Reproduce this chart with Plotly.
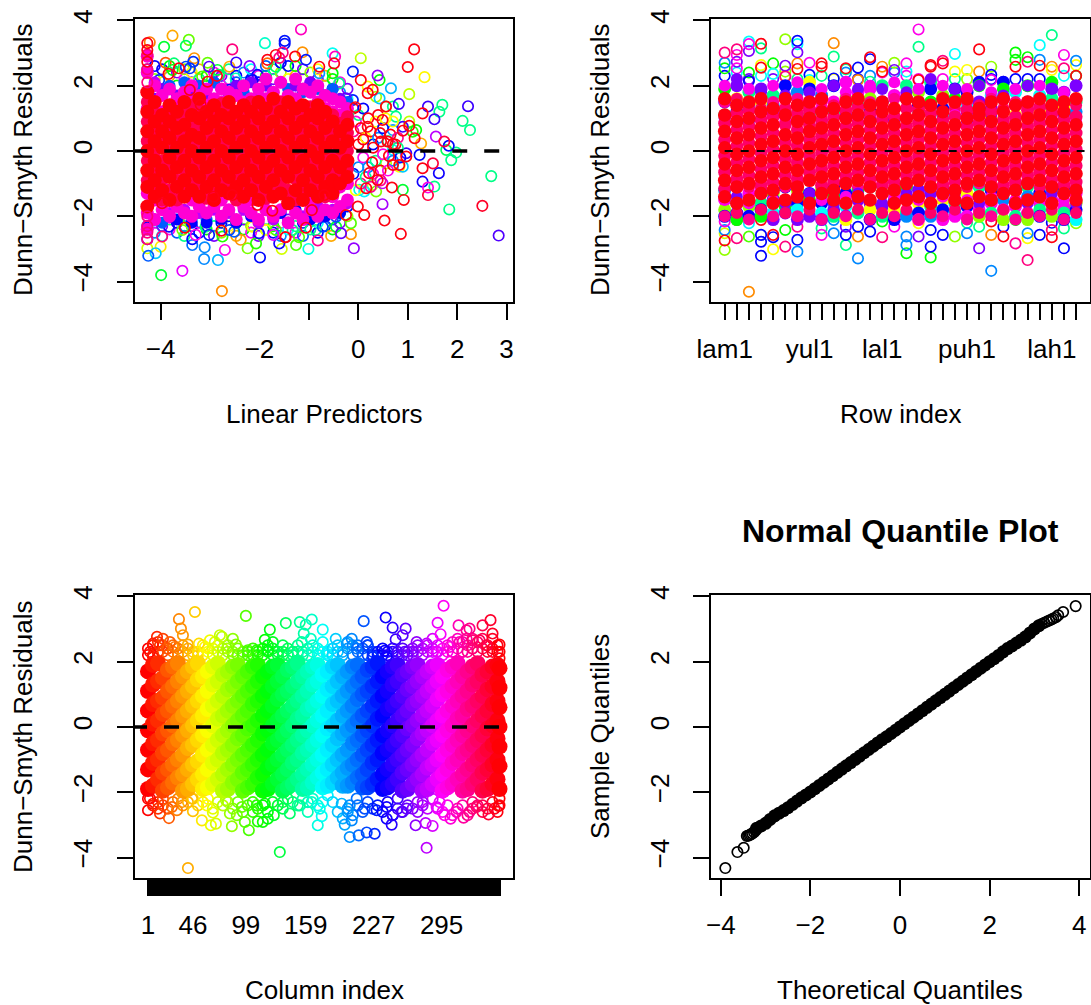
import colorsys
import plotly.graph_objects as go

N_COLS = 353
# ---------- shared axis labels
res_ticks = [-4, -2, 0, 2, 4]
lp_ticks = [-4, -3, -2, -1, 0, 1, 2, 3]
lp_labels = ["−4", "", "−2", "", "0", "1", "2", "3"]
row_ticks = list(range(1, 31))
row_labels = {1: "lam1", 8: "yul1", 14: "lal1", 21: "puh1", 28: "lah1"}
col_labels = {1: "1", 46: "46", 99: "99", 159: "159", 227: "227", 295: "295"}
qq_ticks = [-4, -2, 0, 2, 4]

# ---------- panel 1: linear predictor vs residual
lp_out = [-3.76,-4.22,-3.93,-3.43,-3.49,-1.16,-1.89,-1.49,-1.49,-2.55,-0.52,-0.47,0.05,-1.13,1.13,1.00,1.34,1.03,.66,.39,-.11,-2.47,-2.20,-3.32,-3.34,-3.73,-3.90,-3.05,-3.02,-2.85,-3.41,-2.61,-2.04,
 2.22,1.70,1.41,1.64,1.54,1.30,2.11,2.26,.82,.70,1.03,1.17,1.57,1.83,1.74,1.98,1.78,1.88,1.63,1.54,1.41,1.41,1.30,1.30,1.51,.90,.92,.68,.49,.53,.86,-.09,1.84,2.69,2.51,2.84,
 -3.99,-3.56,-2.76,-1.99,-3.12,-2.84,-2.70,-4.25,-4.10,-4.00,-4.27,-3.11,-3.36,-3.36,-3.29,-2.24,-2.07,-2.01,-1.60,-1.55,-1.26,-1.01,-.82,-.55,-.35,-.15,-.15,-.45,-2.51,-2.75,-3.02,-3.56,-2.38,-1.87,-1.72,-1.47,-1.20,-.86,
 .29,.12,.02,.36,.49,.56,.70,.83,.90,.97,1.24,1.10,1.27,.90,.70,.43,.56,.76,.43,.19,.36,-.11,-.25,-.39,-.52,
 -4.03,-3.76,-3.49,-3.16,-2.82,-2.61,-2.48,-2.14,-1.84,-1.67,-1.06,-.79,-3.83,-3.43,-3.09,-2.61,-2.14,-1.67,-1.33,-.72,-.45]
res_out = [3.53,3.33,3.19,3.40,3.22,3.72,3.30,3.37,3.28,3.11,2.99,2.89,2.84,3.02,3.11,2.57,2.26,1.74,1.92,2.31,2.43,2.71,2.60,2.84,2.73,2.68,2.70,2.70,2.58,2.48,2.53,2.58,2.33,
 1.37,1.41,1.36,1.20,.97,1.15,.92,.64,1.44,1.36,.90,.64,.44,.16,.29,-.05,.03,-.28,-.68,-1.09,-1.12,-1.35,-.94,-.53,-.38,-1.19,-1.50,-1.12,-1.63,-2.13,-2.54,-2.98,-1.79,-.77,-1.68,-2.59,
 -3.80,-3.67,-4.29,-3.26,-3.31,-3.34,-3.03,-3.21,-3.13,-2.93,-2.98,-2.95,-2.88,-2.70,-2.57,-2.98,-2.83,-2.52,-2.83,-3.00,-2.88,-3.00,-2.74,-2.60,-2.52,-2.55,-2.21,-2.32,-2.47,-2.62,-2.57,-2.42,-2.72,-2.42,-2.57,-2.64,-2.64,-2.42,
 -1.04,-1.24,-1.19,-1.24,-.99,-.38,.03,-.48,-.48,-.07,-.12,.59,.23,.74,.64,1.61,1.36,1.05,2.17,1.97,1.66,1.56,1.61,2.07,2.38,
 2.17,2.48,2.58,2.28,2.33,1.87,2.22,2.17,2.68,2.58,2.79,2.38,-2.32,-2.11,-2.32,-2.42,-2.32,-2.42,-2.42,-2.32,-2.01]
col_out = [40,30,130,95,140,310,165,232,232,325,175,310,75,35,350,350,58,75,195,270,230,250,270,35,225,145,20,95,255,130,225,40,240,
 250,150,250,150,250,350,150,150,250,150,75,120,280,235,340,150,140,150,240,150,300,340,240,350,340,130,350,350,275,350,350,270,150,150,345,255,
 130,290,33,235,205,195,300,215,190,55,70,205,210,235,300,90,110,240,240,70,100,170,320,40,260,35,100,130,215,110,230,90,35,60,290,350,100,150,
 75,180,170,90,280,75,180,60,190,250,235,110,40,250,200,190,90,150,120,60,80,230,260,150,120,
 225,120,220,100,140,235,160,235,25,140,230,200,240,100,150,220,60,100,150,220,220]

lp_bins = [-4.27,-4.12,-3.97,-3.82,-3.67,-3.52,-3.37,-3.22,-3.07,-2.92,-2.77,-2.62,-2.47,-2.32,-2.17,-2.02,-1.87,-1.72,-1.57,-1.42,-1.27,-1.12,-.97,-.82,-.67,-.52,-.37,-.22]
lp_fringe = [
 [-2.7,-2.4,2.5,2.9],[-2.5,-2.2,2.2,2.6],[-2.6,-2.3,2.1,2.5],[-2.4,-2.1,2.3,2.6],[-2.5,-2.2,2.0,2.4],[-2.6,-2.3,2.2,2.5],[-2.3,-2.1,2.1,2.4],
 [-2.5,-2.2,2.2,2.5],[-2.4,-2.1,2.0,2.3],[-2.6,-2.3,2.1,2.4],[-2.5,-2.2,2.0,2.3],[-2.3,-2.0,2.2,2.5],[-2.6,-2.2,2.1,2.3],[-2.4,-2.1,2.0,2.4],
 [-2.5,-2.3,2.2,2.5],[-2.6,-2.2,2.1,2.3],[-2.4,-2.1,2.3,2.6],[-2.5,-2.3,2.2,2.5],[-2.6,-2.2,2.4,2.7],[-2.4,-2.1,2.2,2.6],[-2.5,-2.3,2.3,2.6],
 [-2.6,-2.2,2.2,2.5],[-2.4,-2.0,2.1,2.4],[-2.5,-2.2,2.2,2.5],[-2.3,-2.0,2.0,2.3],[-2.4,-2.1,1.9,2.2],[-2.2,-1.9,1.8,2.1],[-2.0,-1.7,1.6,1.9]]
lp_violet = [
 [-2.3,-1.7,1.8,2.4],[-2.1,1.6,2.1],[-2.2,-1.6,1.9],[-1.9,2.0],[-2.1,1.7],[-1.8,2.1],[-2.2,1.8],[-1.9,2.0],[-2.2,1.7],[-1.8,2.1],
 [-2.1,1.9],[-1.9,1.7],[-2.2,2.0],[-1.8,1.8],[-2.0,2.1],[-2.2,1.7],[-1.8,2.0],[-2.1,1.8],[-1.9,2.1],[-2.2,1.9],[-1.8,2.0],[-2.0,1.8],
 [-2.1,2.1],[-1.7,1.9],[-2.0,1.7],[-1.8,1.9],[-1.9,1.6],[-1.6,1.5]]
lp_magenta = [
 [-2.4,-1.9,-1.3,1.3,1.8,2.4,2.9],[-2.1,-1.5,1.5,2.0],[-1.8,-1.1,1.2,1.7],[-2.0,-1.4,1.4,1.9],[-1.7,-1.2,1.1,1.6],[-1.9,-1.4,1.3,1.8],[-2.0,-1.5,1.5,2.0],[-1.7,-1.2,1.2,1.7],
 [-1.9,-1.4,1.4,1.9],[-1.7,-1.1,1.1,1.6],[-2.0,-1.5,1.5,1.9],[-1.8,-1.3,1.3,1.8],[-2.1,-1.4,1.2,1.7],[-1.7,-1.2,1.5,2.0],[-1.9,-1.5,1.1,1.6],[-2.1,-1.3,1.4,1.9],
 [-1.8,-1.1,1.6,2.2],[-2.0,-1.4,1.3,1.8],[-1.8,-1.2,1.5,2.1],[-2.2,-1.5,1.2,1.7],[-1.9,-1.3,1.6,2.2],[-2.1,-1.2,1.4,1.9],[-1.8,-1.5,1.2,1.8],[-2.0,-1.3,1.5,2.0],
 [-1.8,-1.2,1.3,1.7],[-1.9,-1.4,1.2,1.6],[-1.7,-1.1,1.1,1.5],[-1.5,-1.0,.9,1.3]]
lp_core = [
 [-.9,-.3,.3,.9,1.5],[-1.15,-.6,0,.6,1.15],[-.85,-.3,.3,.9,-1.5],[-1.2,-.55,.05,.6,1.2],[-.9,-.25,.35,.95,-1.5],[-1.15,-.6,0,.55,1.15],
 [-.95,-.3,.3,.85,1.4],[-1.1,-.55,.05,.65,1.25],[-.85,-.25,.35,.95,-1.45],[-1.2,-.6,0,.6,1.2],[-.9,-.3,.3,.9,1.45],[-1.05,-.5,.1,.7,1.25],
 [-.85,-.25,.35,.95,-1.5],[-1.15,-.6,0,.6,1.2],[-.9,-.3,.3,.9,1.5],[-1.15,-.5,.1,.7,1.25],[-.85,-.25,.4,1.0,-1.45],[-1.15,-.6,0,.6,1.25],
 [-.95,-.3,.3,.9,1.5],[-1.2,-.5,.1,.7,1.25],[-.85,-.2,.4,1.0,-1.5],[-1.2,-.6,0,.6,1.15],[-.9,-.3,.3,.85,1.35],[-1.1,-.5,.1,.7,1.2],
 [-.8,-.2,.4,1.0,-1.4],[-1.1,-.6,0,.6,1.1],[-.75,-.2,.35,.85],[-.55,0,.55,1.05]]
lp_red = [
 [-1.7,-1.1,-.6,0,.6,1.2,1.8],[-1.4,-.9,-.3,.3,.9,1.5],[-1.2,-.6,.1,.6,1.1],[-1.5,-.8,-.2,.4,.9,1.4],[-1.1,-.5,.1,.7,1.2],[-1.4,-.9,-.3,.3,.8,1.5],
 [-1.2,-.6,0,.5,1.1],[-1.4,-.8,-.2,.4,1.0,1.6],[-1.1,-.5,.1,.7,1.2],[-1.5,-.9,-.3,.3,.9,1.4],[-1.2,-.6,0,.6,1.1],[-1.3,-.8,-.2,.4,1.0,1.5],
 [-1.1,-.5,.1,.7,1.2],[-1.4,-.9,-.3,.3,.9,1.4],[-1.2,-.6,0,.6,1.2],[-1.5,-.8,-.2,.4,1.0,1.5],[-1.1,-.5,.1,.7,1.3],[-1.4,-.9,-.3,.3,.9,1.6],
 [-1.3,-.6,0,.6,1.2],[-1.6,-.8,-.2,.4,1.0,1.5],[-1.2,-.5,.1,.7,1.3],[-1.5,-.9,-.3,.3,.9,1.4],[-1.2,-.6,0,.6,1.1],[-1.4,-.8,-.2,.4,1.0,1.4],
 [-1.1,-.5,.1,.7,1.2],[-1.3,-.9,-.3,.3,.9],[-1.0,-.5,.1,.6],[-.8,-.3,.3,.8]]
lp_right_x = [-.1,-.1,-.1,-.05,-.05,0,0,0,.05,.05,.1,.1,.15,.15,.2,.2,.25,.25,.3,.3,.35,.35,.4,.4,.45,.45,.5,.5,.55,.6,.65,.7,.75,.8,.85,.6,.7,.8]
lp_right_res = [1.3,.6,-.7,.9,-1.2,1.1,.2,-.5,.7,-1.0,1.3,-.2,.4,-.8,1.0,-.5,.6,-1.1,.2,-.7,.9,-.3,1.1,.4,-.6,-.9,.7,-.1,1.0,.3,.5,-.3,.2,.4,-.2,-.6,.9,.1]
lp_right_cols = [350,320,236,300,60,150,350,205]
lp_red_rings = [-4.27,-4.27,-4.27,-3.63,-3.84,-2.86,-3.05,-3.41,-3.19,-1.84,-1.67,-1.28,-.79,-.49,.05,.19,.29,-.06,.56,.49,.19,1.03,.90,1.14,.59,.46,.70,.97,.70,.83,.22,.39,.16,-.01,.12,-.25,-3.51,-2.77,-3.97,-2.93,-2.55,-2.04,-1.74,-1.48,-1.06,-.94,-.69,.10,.30,.28,.44,.62]
res_red_rings = [3.30,3.09,2.73,2.53,2.36,2.30,2.12,1.87,1.41,2.79,2.94,2.89,2.58,2.68,2.17,1.77,1.87,1.34,1.36,.95,.74,.77,.62,.39,.29,.29,.21,-.17,-.43,-.43,-.68,-.89,-1.14,-1.70,-1.96,-1.96,-2.35,-2.44,-1.60,-1.40,-1.35,-1.65,-1.83,-2.64,-2.35,-1.81,-1.35,.35,.10,-.35,.55,-.15]
lp_pink_rings = [-1.53,-1.60,-4.27,-4.27,-4.27,-4.27,-4.27,-4.27,-4.27,-3.97]
res_pink_rings = [3.01,2.85,2.95,2.5,2.1,-2.0,-2.3,-2.5,-2.7,-2.62]

# ---------- panel 2: row index vs residual
row_out = [1,1,1,1,1,1,1,1,2,2,2,2,2,2,3,3,3,3,3,3,3,3,4,4,4,4,4,4,4,4,5,5,5,5,5,6,6,6,6,6,6,7,7,7,7,7,7,7,7,8,8,8,9,9,9,9,10,10,10,10,10,11,11,11,11,11,12,12,12,12,12,13,13,13,13,14,14,14,14,15,15,15,16,16,16,16,16,17,17,17,17,17,18,18,18,18,18,19,19,19,20,20,20,21,21,22,22,22,22,23,23,23,23,23,23,24,24,24,25,25,25,25,25,26,26,26,26,26,27,27,27,27,28,28,28,28,28,29,29,29,29,30,30,30,30]
res_row = [3.01,2.70,2.53,-2.16,-2.42,-2.74,-3.03,-2.52,3.11,2.94,2.73,2.53,-2.11,-2.67,3.35,3.27,3.06,2.40,2.14,-2.21,-2.62,-4.31,3.28,3.14,2.55,2.63,-2.11,-2.57,-2.78,-3.21,2.68,2.36,-2.57,-2.64,-3.01,3.42,2.61,2.43,2.28,-2.42,-2.93,3.37,3.27,3.02,2.68,2.51,-2.32,-2.72,-3.08,2.70,2.33,2.17,2.68,2.58,-2.37,-2.57,3.30,2.89,2.22,-2.11,-2.52,2.53,2.50,-2.32,-2.57,-2.88,2.55,2.17,-2.32,-2.62,-3.29,2.87,2.81,2.12,-2.47,2.58,2.43,-2.16,-2.64,2.70,2.48,-2.32,2.68,2.43,-2.62,-2.88,-3.13,3.72,3.19,2.17,-2.21,-2.62,2.63,2.58,-2.42,-2.93,-3.26,2.76,2.68,-2.57,2.97,2.43,-2.62,2.48,-2.52,3.11,2.43,-2.32,-2.98,2.58,2.33,2.17,-2.16,-2.57,-3.67,2.12,-2.32,-2.62,3.01,2.79,2.58,-2.11,-2.83,2.87,2.73,-2.52,-2.67,-3.34,2.79,2.61,3.24,-2.57,3.55,2.58,2.48,-2.42,-2.64,2.94,2.53,-2.37,-2.98,2.76,2.63,2.30,-2.21]
col_row = [325,205,118,300,205,350,85,70,325,300,265,300,340,325,177,300,265,118,236,180,100,33,350,150,350,60,350,236,236,236,118,177,350,236,60,85,265,85,325,118,325,236,177,265,33,350,320,236,205,300,236,177,350,350,150,300,33,150,236,205,205,350,150,265,236,150,236,33,236,33,205,350,236,150,236,33,350,118,325,85,265,300,300,177,205,205,118,300,150,350,60,265,350,350,236,236,118,325,350,236,177,60,85,60,205,350,33,150,265,85,236,300,350,33,205,265,236,350,118,118,350,118,320,118,325,205,60,325,205,350,177,236,150,33,60,325,350,300,325,150,236,205,60,350,85]

row_mid = [
 [2.3,1.9,1.5,1.1,-1.2,-1.5,-1.8,-2.0],[2.4,2.0,1.6,1.2,-1.1,-1.6,-1.9,-2.1],[2.2,1.8,1.4,-1.3,-1.7,-2.0],[2.3,1.9,1.5,1.2,-1.2,-1.6,-1.8,-2.0],
 [2.2,1.7,1.4,1.1,-1.3,-1.5,-1.9,-2.1],[2.3,2.0,1.6,1.2,-1.1,-1.7,-1.9],[2.2,1.8,1.4,-1.2,-1.6,-1.8,-2.1],[2.1,1.9,1.5,1.1,-1.3,-1.5,-2.0],
 [2.3,1.7,1.3,-1.2,-1.6,-1.9,-2.1],[2.2,2.0,1.5,1.2,-1.1,-1.4,-1.8,-2.0],[2.4,2.1,1.6,-1.3,-1.7,-2.0,-2.1],[2.2,1.8,1.4,1.1,-1.2,-1.5,-1.9],
 [2.3,1.9,1.6,1.2,-1.1,-1.6,-1.8,-2.1],[2.4,2.0,1.5,-1.3,-1.7,-2.0],[2.4,1.7,1.3,1.0,-1.2,-1.5,-1.8,-2.1],[2.3,2.0,1.6,-1.1,-1.4,-1.9,-2.0],
 [2.2,1.8,1.4,1.2,-1.2,-1.6,-1.9,-2.1],[2.1,1.9,1.5,-1.3,-1.7,-2.0],[2.2,1.7,1.3,1.1,-1.1,-1.5,-1.8,-2.1],[2.2,1.9,1.6,-1.2,-1.6,-1.9,-2.0],
 [2.2,1.8,1.4,1.2,-1.3,-1.7,-2.0,-2.2],[2.1,2.0,1.5,-1.1,-1.4,-1.8,-2.0],[2.2,1.7,1.3,1.0,-1.2,-1.6,-1.9],[2.1,1.9,1.6,-1.3,-1.5,-1.8,-2.1],
 [2.2,1.8,1.4,1.1,-1.2,-1.7,-2.0],[2.2,2.0,1.5,-1.1,-1.4,-1.9,-2.1],[2.2,1.7,1.3,1.2,-1.3,-1.6,-1.8,-2.0],[2.1,1.9,1.6,-1.2,-1.5,-2.0,-2.2],
 [2.3,1.8,1.4,-1.1,-1.7,-1.9,-2.1],[2.3,2.0,1.5,1.2,-1.3,-1.6,-1.8,-2.1]]
row_pink = [
 [2.0,1.5,1.0,-.9,-1.5,-2.0],[2.2,1.6,1.1,-1.0,-1.4,-1.9],[1.9,1.4,.9,-1.1,-1.6,-2.1],[1.8,1.3,1.0,-.9,-1.3,-1.8],[2.0,1.5,1.1,-1.0,-1.5,-2.0],
 [1.7,1.2,.9,-1.1,-1.6,-1.9],[2.1,1.6,1.0,-1.0,-1.4,-2.0],[1.8,1.3,1.1,-.9,-1.3,-1.8],[1.9,1.5,.9,-1.1,-1.5,-2.1],[2.0,1.4,1.0,-1.0,-1.6,-1.9],
 [1.8,1.6,1.1,-.9,-1.4,-2.0],[1.9,1.3,.9,-1.1,-1.3,-1.8],[2.0,1.5,1.0,-1.0,-1.5,-2.1],[1.9,1.4,1.1,-.9,-1.6,-1.9],[2.1,1.6,.9,-1.1,-1.4,-2.0],
 [1.8,1.3,1.0,-1.0,-1.3,-1.8],[1.9,1.5,1.1,-.9,-1.5,-2.1],[2.2,1.4,.9,-1.1,-1.6,-1.9],[2.0,1.6,1.0,-1.0,-1.4,-2.0],[1.9,1.3,1.1,-.9,-1.3,-1.8],
 [1.9,1.5,.9,-1.1,-1.5,-2.1],[2.0,1.4,1.0,-1.0,-1.6,-1.9],[1.8,1.6,1.1,-.9,-1.4,-2.0],[1.7,1.3,.9,-1.1,-1.3,-1.8],[1.9,1.5,1.0,-1.0,-1.5,-2.1],
 [2.0,1.4,1.1,-.9,-1.6,-1.9],[2.0,1.6,.9,-1.1,-1.4,-2.0],[1.9,1.3,1.0,-1.0,-1.3,-1.8],[1.8,1.5,1.1,-.9,-1.5,-2.1],[2.0,1.4,.9,-1.1,-1.6,-1.9]]
row_core = [
 [.85,.35,-.15,-.65,-1.15],[1.15,.65,.15,-.35,-.85],[1.25,.75,.25,-.25,-.75],[.95,.45,-.05,-.55,-1.05],[1.05,.55,.05,-.45,-.95],
 [1.3,.8,.25,-.25,-.75],[1.15,.65,.15,-.35,-.85],[1.25,.8,.35,-.15,-.65],[.95,.45,-.05,-.55,-1.05],[1.05,.55,.05,-.45,-.95],
 [1.25,.75,.25,-.25,-.75],[1.35,.85,.35,-.15,-.65],[1.15,.65,.15,-.35,-.85],[.95,.45,-.05,-.55,-1.05],[1.05,.55,.05,-.45,-.95],
 [1.3,.75,.25,-.25,-.75],[1.25,.85,.35,-.15,-.65],[1.15,.65,.15,-.35,-.85],[.95,.45,-.05,-.55,-1.05],[1.05,.55,.05,-.45,-.95],
 [1.25,.75,.25,-.25,-.75],[1.2,.85,.35,-.15,-.65],[1.2,.65,.15,-.35,-.85],[.95,.45,-.05,-.55,-1.05],[1.05,.55,.05,-.45,-.95],
 [1.25,.75,.25,-.25,-.75],[1.35,.85,.35,-.15,-.65],[1.15,.65,.15,-.35,-.85],[.95,.45,-.05,-.55,-1.05],[1.05,.55,.05,-.45,-.95]]
row_red = [
 [1.6,1.1,.6,.1,-.4,-.9,-1.4],[1.4,.9,.4,-.1,-.6,-1.1,-1.6],[1.5,1.0,.5,0,-.5,-1.0,-1.5],[1.6,1.2,.7,.2,-.3,-.8,-1.3],[1.3,.8,.3,-.2,-.7,-1.2,-1.6],
 [1.6,1.1,.5,0,-.5,-1.0,-1.5],[1.4,.9,.4,-.1,-.6,-1.1,-1.4],[1.5,1.0,.6,.1,-.4,-.9,-1.6],[1.6,1.2,.7,.2,-.3,-.8,-1.3],[1.3,.8,.3,-.2,-.7,-1.2,-1.5],
 [1.5,1.0,.5,0,-.5,-1.0,-1.6],[1.6,1.1,.6,.1,-.4,-.9,-1.4],[1.4,.9,.4,-.1,-.6,-1.1,-1.5],[1.5,1.2,.7,.2,-.3,-.8,-1.3],[1.3,.8,.3,-.2,-.7,-1.2,-1.6],
 [1.6,1.0,.5,0,-.5,-1.0,-1.5],[1.5,1.1,.6,.1,-.4,-.9,-1.4],[1.4,.9,.4,-.1,-.6,-1.1,-1.6],[1.6,1.2,.7,.2,-.3,-.8,-1.3],[1.5,.8,.3,-.2,-.7,-1.2,-1.5],
 [1.6,1.0,.5,0,-.5,-1.0,-1.6],[1.3,1.1,.6,.1,-.4,-.9,-1.4],[1.5,.9,.4,-.1,-.6,-1.1,-1.5],[1.6,1.2,.7,.2,-.3,-.8,-1.3],[1.4,.8,.3,-.2,-.7,-1.2,-1.6],
 [1.5,1.0,.5,0,-.5,-1.0,-1.5],[1.6,1.1,.6,.1,-.4,-.9,-1.4],[1.4,.9,.4,-.1,-.6,-1.1,-1.6],[1.5,1.2,.7,.2,-.3,-.8,-1.3],[1.6,.8,.3,-.2,-.7,-1.2,-1.5]]
row_mid_cols = [236,118,265,150,205,300,85,236,177,265,60,236,300,150]

# ---------- panel 3: column index vs residual
band_cols = [1,6,11,16,21,26,31,36,41,46,51,56,61,66,71,76,81,86,91,96,101,106,111,116,121,126,131,136,141,146,151,156,161,166,171,176,181,186,191,196,201,206,211,216,221,226,231,236,241,246,251,256,261,266,271,276,281,286,291,296,301,306,311,316,321,326,331,336,341,346,351,353]
band_res = [
 [-1.9,-1.3,-.7,-.1,.5,1.1,1.7],[-1.8,-1.1,-.5,.1,.7,1.3,1.9],[-1.6,-1.0,-.4,.2,.8,1.4,1.95],[-1.95,-1.4,-.8,-.2,.4,.9,1.5],
 [-1.85,-1.3,-.7,-.1,.5,1.1,1.75],[-1.7,-1.15,-.5,.05,.65,1.25,1.85],[-1.55,-1.0,-.4,.2,.8,1.4,1.95],[-1.95,-1.45,-.85,-.25,.35,.95,1.55],
 [-1.9,-1.3,-.65,-.1,.5,1.1,1.7],[-1.75,-1.15,-.55,.05,.65,1.25,1.85],[-1.6,-1.05,-.4,.2,.8,1.45,1.95],[-1.9,-1.45,-.85,-.25,.35,.95,1.55],
 [-1.85,-1.3,-.7,-.1,.55,1.1,1.7],[-1.75,-1.1,-.55,.05,.65,1.3,1.85],[-1.6,-1.0,-.4,.25,.8,1.4,1.95],[-1.95,-1.45,-.8,-.25,.35,.95,1.6],
 [-1.9,-1.3,-.7,-.1,.5,1.15,1.7],[-1.7,-1.15,-.55,.05,.65,1.25,1.85],[-1.6,-1.0,-.35,.2,.8,1.4,1.9],[-1.95,-1.4,-.85,-.25,.35,.95,1.55],
 [-1.85,-1.3,-.7,-.05,.5,1.1,1.7],[-1.75,-1.15,-.55,.05,.7,1.25,1.85],[-1.55,-1.0,-.4,.2,.8,1.4,1.9],[-1.95,-1.45,-.85,-.2,.35,.95,1.55],
 [-1.9,-1.25,-.7,-.1,.5,1.1,1.7],[-1.75,-1.15,-.5,.05,.65,1.25,1.85],[-1.6,-1.0,-.4,.2,.85,1.4,1.9],[-1.95,-1.45,-.85,-.25,.35,1.0,1.55],
 [-1.85,-1.3,-.7,-.1,.5,1.1,1.75],[-1.75,-1.1,-.55,.05,.65,1.25,1.85],[-1.6,-1.0,-.4,.25,.8,1.4,1.95],[-1.9,-1.45,-.8,-.25,.35,.95,1.55],
 [-1.85,-1.3,-.7,-.1,.55,1.1,1.7],[-1.7,-1.15,-.55,.05,.65,1.3,1.85],[-1.55,-1.0,-.4,.2,.8,1.4,1.9],[-1.85,-1.4,-.85,-.25,.35,.95,1.6],
 [-1.8,-1.3,-.7,-.05,.5,1.15,1.7],[-1.7,-1.15,-.55,.05,.7,1.25,1.85],[-1.55,-1.0,-.35,.2,.8,1.4,1.9],[-1.8,-1.4,-.85,-.2,.35,.95,1.55],
 [-1.8,-1.25,-.7,-.1,.5,1.1,1.7],[-1.7,-1.15,-.5,.05,.65,1.25,1.85],[-1.55,-1.0,-.4,.2,.85,1.4,1.9],[-1.85,-1.45,-.85,-.25,.35,1.0,1.55],
 [-1.85,-1.3,-.7,-.1,.5,1.1,1.75],[-1.75,-1.1,-.55,.05,.65,1.25,1.85],[-1.6,-1.0,-.4,.25,.8,1.4,1.95],[-1.9,-1.45,-.8,-.25,.35,.95,1.55],
 [-1.85,-1.3,-.7,-.1,.55,1.1,1.7],[-1.75,-1.15,-.55,.05,.65,1.3,1.85],[-1.6,-1.0,-.4,.2,.8,1.4,1.9],[-1.95,-1.4,-.85,-.25,.35,.95,1.6],
 [-1.9,-1.3,-.7,-.05,.5,1.15,1.7],[-1.75,-1.15,-.55,.05,.7,1.25,1.85],[-1.6,-1.0,-.35,.2,.8,1.4,1.9],[-1.95,-1.45,-.85,-.2,.35,.95,1.55],
 [-1.9,-1.25,-.7,-.1,.5,1.1,1.7],[-1.75,-1.15,-.5,.05,.65,1.25,1.85],[-1.6,-1.0,-.4,.2,.85,1.4,1.9],[-1.95,-1.45,-.85,-.25,.35,1.0,1.55],
 [-1.85,-1.3,-.7,-.1,.5,1.1,1.75],[-1.75,-1.1,-.55,.05,.65,1.25,1.85],[-1.6,-1.0,-.4,.25,.8,1.4,1.95],[-1.95,-1.45,-.8,-.25,.35,.95,1.55],
 [-1.9,-1.3,-.7,-.1,.55,1.1,1.7],[-1.75,-1.15,-.55,.05,.65,1.3,1.85],[-1.6,-1.0,-.4,.2,.8,1.4,1.95],[-1.95,-1.4,-.85,-.25,.35,.95,1.6],
 [-1.9,-1.3,-.7,-.05,.5,1.15,1.7],[-1.75,-1.15,-.55,.05,.7,1.25,1.85],[-1.6,-1.0,-.35,.2,.8,1.4,1.9],[-1.9,-1.2,-.6,.0,.6,1.2,1.8]]
band_edge = [
 [-2.2,2.2,2.4],[-2.4,2.5,2.2],[-2.3,2.6,2.3],[-2.2,2.3,2.5],[-2.5,2.4,2.2],[-2.3,2.5,2.3],[-2.2,2.2,2.4],[-2.4,2.3,2.5],
 [-2.3,2.4,2.2],[-2.2,2.2,2.3],[-2.4,2.3,2.2],[-2.3,2.5,2.2],[-2.2,2.3,2.4],[-2.5,2.2,2.4],[-2.3,2.5,2.3],[-2.4,2.2,2.4],
 [-2.3,2.3,2.5],[-2.5,2.2,2.3],[-2.3,2.4,2.2],[-2.6,2.2,2.3],[-2.4,2.3,2.2],[-2.3,2.2,2.4],[-2.5,2.3,2.2],[-2.4,2.2,2.4],
 [-2.6,2.5,2.3],[-2.3,2.2,2.4],[-2.4,2.3,2.2],[-2.5,2.2,2.3],[-2.2,2.4,2.2],[-2.3,2.2,2.3],[-2.4,2.3,2.5],[-2.2,2.3,2.2],
 [-2.3,2.4,2.2],[-2.2,2.5,2.3],[-2.4,2.2,2.4],[-2.3,2.6,2.3],[-2.1,2.3,2.2],[-2.3,2.2,2.4],[-2.6,2.5,2.3],[-2.8,2.3,2.2],
 [-2.5,2.4,2.6],[-2.7,2.2,2.5],[-2.4,2.3,2.5],[-2.6,2.4,2.2],[-2.3,2.2,2.5],[-2.5,2.3,2.2],[-2.4,2.2,2.3],[-2.6,2.4,2.2],
 [-2.3,2.2,2.3],[-2.7,2.3,2.4],[-2.5,2.2,2.3],[-2.6,2.4,2.2],[-2.4,2.3,2.2],[-2.5,2.2,2.4],[-2.3,2.5,2.3],[-2.4,2.2,2.4],
 [-2.5,2.3,2.5],[-2.2,2.4,2.3],[-2.5,2.3,2.5],[-2.6,2.4,2.2],[-2.4,2.5,2.3],[-2.7,2.3,2.6],[-2.5,2.4,2.7],[-2.4,2.6,2.3],
 [-2.7,2.5,2.3],[-2.5,2.4,2.7],[-2.4,2.6,2.3],[-2.6,2.4,2.7],[-2.5,2.5,2.3],[-2.3,2.4,2.7],[-2.6,2.5,2.3],[-2.4,2.3,2.1]]
col_up = [10,6,16,23,3,13,28,20,6,32,34,36,41,48,52,63,58,73,68,75,86,89,80,99,101,110,123,118,126,136,121,146,139,153,159,165,157,164,155,176,173,189,186,180,205,200,210,220,221,226,217,239,246,259,249,256,238,240,258,270,280,266,286,290,291,294,297,303,312,320,323,313,320,306,326,344,336,346,333,353,340,346,326,316]
res_up = [2.76,2.55,2.70,2.60,2.30,2.50,2.45,2.40,2.14,3.30,3.01,2.81,2.52,3.52,2.55,2.65,2.45,2.81,2.60,2.76,2.70,2.52,2.40,3.40,2.35,2.35,2.98,2.67,2.60,2.50,2.35,2.30,3.18,3.21,3.13,3.29,2.86,2.70,2.60,2.98,2.19,2.70,2.40,2.24,2.70,2.55,2.40,2.60,2.50,2.14,3.24,3.35,3.04,3.01,2.68,2.81,2.33,2.14,2.30,2.60,2.55,2.30,2.70,2.30,3.19,2.84,3.71,2.45,3.11,2.96,3.01,2.60,2.70,2.30,2.40,3.27,3.11,2.86,2.65,2.52,2.50,2.30,2.65,2.30]
col_lo = [1,6,13,22,30,16,35,3,11,25,46,41,45,55,66,60,64,69,85,79,83,90,102,98,95,106,111,116,121,127,118,133,110,136,143,153,161,173,171,175,165,195,203,198,205,203,212,220,228,201,210,218,230,240,245,240,255,246,260,251,269,279,286,280,271,276,290,298,304,293,310,317,323,330,342,352,336,348,353,326]
res_lo = [-2.55,-2.35,-2.65,-2.79,-2.55,-2.40,-2.30,-2.19,-2.50,-2.45,-2.58,-4.32,-2.19,-2.86,-2.62,-2.40,-3.01,-2.96,-3.04,-2.24,-2.65,-2.70,-3.16,-2.91,-2.45,-2.60,-2.89,-2.91,-2.81,-2.70,-2.35,-3.83,-2.40,-2.30,-2.65,-2.40,-2.60,-2.50,-3.01,-2.73,-2.30,-2.35,-2.40,-2.99,-2.86,-3.37,-3.32,-3.23,-3.27,-2.60,-2.19,-2.50,-2.55,-2.45,-2.99,-2.81,-2.60,-2.70,-2.50,-2.19,-3.01,-2.94,-3.03,-3.70,-2.60,-2.30,-2.45,-2.70,-2.81,-2.30,-2.60,-2.78,-2.60,-2.45,-2.68,-2.42,-2.40,-2.50,-2.19,-2.30]

# ---------- panel 4: normal quantile plot
qq_dense_x = [-3.2,-3.1,-3.0,-2.9,-2.8,-2.7,-2.6,-2.5,-2.4,-2.3,-2.2,-2.1,-2.0,-1.9,-1.8,-1.7,-1.6,-1.5,-1.4,-1.3,-1.2,-1.1,-1.0,-.9,-.8,-.7,-.6,-.5,-.4,-.3,-.2,-.1,0,.1,.2,.3,.4,.5,.6,.7,.8,.9,1.0,1.1,1.2,1.3,1.4,1.5,1.6,1.7,1.8,1.9,2.0,2.1,2.2,2.3,2.4,2.5,2.6,2.7,2.8,2.9,3.0,3.1]
qq_dense_y = [-3.1,-3.03,-2.95,-2.83,-2.72,-2.64,-2.56,-2.47,-2.37,-2.27,-2.17,-2.08,-1.99,-1.89,-1.79,-1.69,-1.59,-1.49,-1.39,-1.29,-1.19,-1.09,-.99,-.89,-.79,-.69,-.59,-.49,-.39,-.3,-.2,-.1,0,.1,.2,.3,.4,.5,.6,.7,.8,.9,1.0,1.1,1.2,1.3,1.4,1.5,1.6,1.7,1.8,1.9,2.0,2.09,2.19,2.3,2.4,2.48,2.57,2.66,2.76,2.88,3.0,3.1]
qq_end_x = [-3.9,-3.63,-3.49,-3.42,-3.39,-3.36,-3.33,-3.3,-3.26,-3.22,3.16,3.22,3.28,3.33,3.38,3.42,3.48,3.53,3.64,3.92]
qq_end_y = [-4.32,-3.83,-3.70,-3.34,-3.33,-3.31,-3.29,-3.26,-3.22,-3.16,3.15,3.19,3.23,3.26,3.29,3.32,3.36,3.42,3.52,3.70]

FONT = "Liberation Sans"


def rainbow(col):
    r, g, b = colorsys.hsv_to_rgb((col - 1) / N_COLS, 1, 1)
    return f"rgb({round(r*255)},{round(g*255)},{round(b*255)})"


fig = go.Figure()


def rings(ax, x, y, colors, size=10.4):
    fig.add_trace(go.Scatter(x=x, y=y, xaxis=f"x{ax}", yaxis=f"y{ax}", mode="markers", hoverinfo="skip",
                             marker=dict(symbol="circle-open", size=size, color=colors, line=dict(width=1.7))))


def discs(ax, x, y, colors, size=12):
    fig.add_trace(go.Scatter(x=x, y=y, xaxis=f"x{ax}", yaxis=f"y{ax}", mode="markers", hoverinfo="skip",
                             marker=dict(symbol="circle", size=size, color=colors, line=dict(width=0))))


def expand(bins, nested):
    xs, ys = [], []
    for b, vals in zip(bins, nested):
        for v in vals:
            xs.append(b)
            ys.append(v)
    return xs, ys


def cycle(cols, n):
    return [rainbow(cols[i % len(cols)]) for i in range(n)]


def zero_line(ax, x0, x1, width, dash):
    fig.add_trace(go.Scatter(x=[x0, x1], y=[0, 0], xaxis=f"x{ax}", yaxis=f"y{ax}", mode="lines", hoverinfo="skip",
                             line=dict(color="black", width=width, dash=dash)))


# panel 1 layers: coloured rings, violet and magenta mass, red mass
fx, fy = expand(lp_bins, lp_fringe)
rings(1, fx, fy, cycle(row_mid_cols + [40, 120, 215], len(fx)))
order = sorted(range(len(lp_out)), key=lambda i: col_out[i])
rings(1, [lp_out[i] for i in order], [res_out[i] for i in order], [rainbow(col_out[i]) for i in order])
rings(1, lp_right_x, lp_right_res, cycle(lp_right_cols, len(lp_right_x)))
vx, vy = expand(lp_bins, lp_violet)
discs(1, vx, vy, cycle([236, 265, 280, 215], len(vx)), 12)
mx, my = expand(lp_bins, lp_magenta)
discs(1, mx, my, rainbow(305), 13)
cx, cy = expand(lp_bins, lp_core)
discs(1, cx, cy, rainbow(335), 13)
rx, ry = expand(lp_bins, lp_red)
discs(1, rx, ry, rainbow(352), 14)
rings(1, lp_pink_rings, res_pink_rings, rainbow(325))
rings(1, lp_red_rings, res_red_rings, rainbow(350))
zero_line(1, -4.575, 2.854, 3.6, "15px,17px")

# panel 2 layers
rx2, ry2 = expand(row_ticks, row_mid)
mid_colors = cycle(row_mid_cols, len(rx2))
inner = [i for i in range(len(rx2)) if abs(ry2[i]) < 2.15]
outer = [i for i in range(len(rx2)) if abs(ry2[i]) >= 2.15]
rings(2, [rx2[i] for i in outer], [ry2[i] for i in outer], [mid_colors[i] for i in outer])
order = sorted(range(len(row_out)), key=lambda i: col_row[i])
rings(2, [row_out[i] for i in order], [res_row[i] for i in order], [rainbow(col_row[i]) for i in order])
discs(2, [rx2[i] for i in inner], [ry2[i] for i in inner], [mid_colors[i] for i in inner], 13)
px2, py2 = expand(row_ticks, row_pink)
discs(2, px2, py2, cycle([300, 320, 265, 330], len(px2)), 12)
cx2, cy2 = expand(row_ticks, row_core)
discs(2, cx2, cy2, rainbow(330), 13)
qx2, qy2 = expand(row_ticks, row_red)
discs(2, qx2, qy2, rainbow(350), 13.5)
zero_line(2, 1, 30.7, 2, "8px,8px")

# panel 3 layers
ex, ey = expand(band_cols, band_edge)
rings(3, ex, ey, [rainbow(c) for c in ex])
order = sorted(range(len(col_up + col_lo)), key=lambda i: (col_up + col_lo)[i])
all_c, all_r = col_up + col_lo, res_up + res_lo
rings(3, [all_c[i] for i in order], [all_r[i] for i in order], [rainbow(all_c[i]) for i in order])
bx, by = expand(band_cols, band_res)
discs(3, bx, by, [rainbow(c) for c in bx], 16)
zero_line(3, -15, N_COLS, 3.6, "15px,17px")

# panel 4 layers
discs(4, qq_dense_x, qq_dense_y, "black", 13)
rings(4, qq_end_x, qq_end_y, "black")

W, H = 1091, 1005


def dom_x(a, b):
    return [a / W, b / W]


def dom_y(top, bottom):
    return [1 - bottom / H, 1 - top / H]


common = dict(showline=True, mirror=True, linecolor="black", linewidth=2, showgrid=False, zeroline=False,
              ticks="outside", ticklen=16, tickwidth=1.7, tickcolor="black", automargin=False,
              tickfont=dict(family=FONT, size=26, color="black"), tickmode="array")
x_common = dict(common, ticklabelstandoff=7, tickangle=0)
y_common = dict(common, tickvals=res_ticks, ticktext=["−4", "−2", "0", "2", "4"], tickangle=-90, ticklabelstandoff=14)


def lab(vals, mapping):
    return [mapping.get(v, "") for v in vals]


col_ticks = list(range(1, N_COLS + 1))
layout = dict(
    width=W, height=H, margin=dict(l=0, r=0, t=0, b=0, autoexpand=False), paper_bgcolor="white", plot_bgcolor="white", showlegend=False,
    xaxis=dict(x_common, domain=dom_x(134.7, 513), range=[-4.525, 3.13], tickvals=lp_ticks, ticktext=lp_labels, anchor="y"),
    yaxis=dict(y_common, domain=dom_y(19, 301.7), range=[-4.615, 4.04], anchor="x"),
    xaxis2=dict(x_common, domain=dom_x(711, 1090), range=[-0.13, 31.15], tickvals=row_ticks, ticktext=lab(row_ticks, row_labels), anchor="y2"),
    yaxis2=dict(y_common, domain=dom_y(19, 301.7), range=[-4.615, 4.04], anchor="x2"),
    xaxis3=dict(x_common, domain=dom_x(134.7, 513), range=[-12.3, 366.5], tickvals=col_ticks, ticktext=lab(col_ticks, col_labels), anchor="y3"),
    yaxis3=dict(y_common, domain=dom_y(595, 877.7), range=[-4.615, 4.04], anchor="x3"),
    xaxis4=dict(x_common, domain=dom_x(711, 1090), range=[-4.22, 4.24], tickvals=qq_ticks, ticktext=["−4", "−2", "0", "2", "4"], anchor="y4"),
    yaxis4=dict(y_common, domain=dom_y(595, 877.7), range=[-4.615, 4.04], anchor="x4"),
)


def note(text, px, py, angle=0, size=26, bold=False):
    return dict(text=f"<b>{text}</b>" if bold else text, x=px / W, y=1 - py / H, xref="paper", yref="paper", showarrow=False,
                xanchor="center", yanchor="middle", textangle=angle, font=dict(family=FONT, size=size, color="black"))


layout["annotations"] = [
    note("Linear Predictors", 324, 414), note("Row index", 900, 414),
    note("Column index", 324, 990), note("Theoretical Quantiles", 900, 990),
    note("Dunn−Smyth Residuals", 23, 160, -90), note("Dunn−Smyth Residuals", 600, 160, -90),
    note("Dunn−Smyth Residuals", 23, 737, -90), note("Sample Quantiles", 600, 737, -90),
    note("Normal Quantile Plot", 900, 531, 0, 32, True),
]
fig.update_layout(**layout)
fig.write_html("out.html", config={"displayModeBar": False},
               post_script="document.body.style.margin='0';document.body.style.overflow='hidden';")
